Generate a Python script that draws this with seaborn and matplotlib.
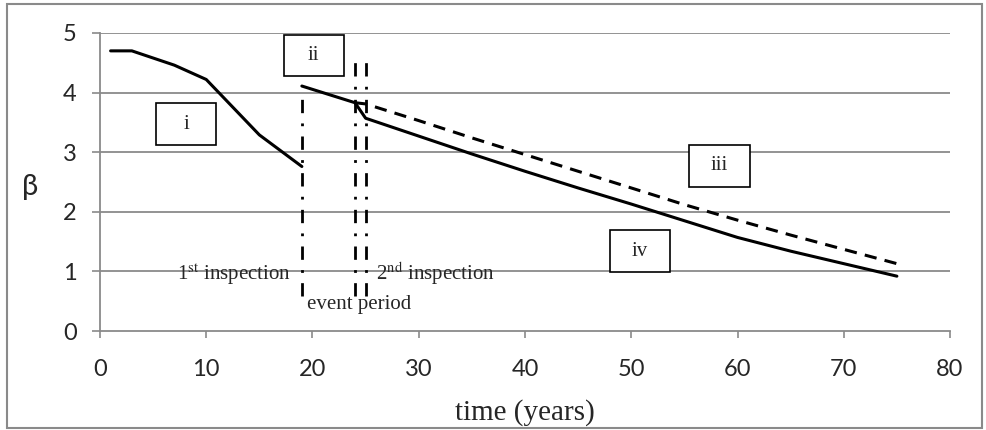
import numpy as np
import pandas as pd
import seaborn as sns
import matplotlib.pyplot as plt
from matplotlib.patches import Rectangle

# curve i: before the 1st inspection
t_before = [1, 3, 7, 10, 15, 19]
beta_before = [4.70, 4.70, 4.46, 4.22, 3.29, 2.76]

# curve ii + iv: after the 1st inspection (solid)
t_after = [19, 24, 25, 30, 35, 40, 45, 50, 55, 60, 65, 70, 75]
beta_after = [4.11, 3.83, 3.57, 3.27, 2.97, 2.68, 2.40, 2.13, 1.85, 1.57, 1.34, 1.13, 0.92]

# curve iii: without the event (dashed)
t_noevent = [24, 25, 30, 35, 40, 45, 50, 55, 60, 65, 70, 75]
beta_noevent = [3.83, 3.81, 3.53, 3.24, 2.96, 2.68, 2.40, 2.12, 1.86, 1.61, 1.37, 1.13]

# vertical markers: 1st inspection, event period start / end
event_t = [19, 24, 25]
event_top = [3.95, 4.52, 4.52]
event_bottom = 0.58

# region labels
region_names = ["i", "ii", "iii", "iv"]
region_t = [8.1, 20.1, 58.3, 50.8]
region_beta = [3.47, 4.62, 2.77, 1.34]

x_ticks = [0, 10, 20, 30, 40, 50, 60, 70, 80]
y_ticks = [0, 1, 2, 3, 4, 5]

sns.set_theme(style="white")
plt.rcParams["font.family"] = ["Lato", "DejaVu Sans"]
plt.rcParams["mathtext.fontset"] = "stix"

grey = "#8a8a8a"
fig = plt.figure(figsize=(9.86, 4.30), dpi=100)
ax = fig.add_axes([0.1014, 0.2302, 0.8621, 0.6931])

fig.patches.append(Rectangle((0.007, 0.005), 0.989, 0.986, transform=fig.transFigure,
                             fill=False, edgecolor=grey, linewidth=1.5))

ax.set_xlim(0, 80)
ax.set_ylim(0, 5)
ax.set_xticks(x_ticks)
ax.set_yticks(y_ticks)
for y in y_ticks[1:]:
    ax.axhline(y, color=grey, lw=1.3, zorder=0)

df1 = pd.DataFrame({"t": t_before, "beta": beta_before})
df2 = pd.DataFrame({"t": t_after, "beta": beta_after})
df3 = pd.DataFrame({"t": t_noevent, "beta": beta_noevent})
sns.lineplot(data=df1, x="t", y="beta", color="black", lw=2.2, ax=ax, sort=False)
sns.lineplot(data=df2, x="t", y="beta", color="black", lw=2.2, ax=ax, sort=False)
sns.lineplot(data=df3, x="t", y="beta", color="black", lw=2.2, ax=ax, sort=False,
             linestyle=(0, (4, 2.7)))

ax.vlines(event_t, event_bottom, event_top, colors="black", lw=2,
          linestyles=[(0, (4.8, 3.7, 1, 3.7))])

for name, t, b in zip(region_names, region_t, region_beta):
    ax.add_patch(Rectangle((t - 2.82, b - 0.35), 5.65, 0.70, fill=True,
                           facecolor="white", edgecolor="black", lw=1.2, zorder=5))
    ax.text(t, b, name, ha="center", va="center", fontsize=15,
            family="Liberation Serif", zorder=6)

serif = "Liberation Serif"
ax.text(18.0, 0.86, "1$^{\\mathrm{st}}$ inspection", ha="right", va="baseline",
        fontsize=15, family=serif)
ax.text(26.0, 0.86, "2$^{\\mathrm{nd}}$ inspection", ha="left", va="baseline",
        fontsize=15, family=serif)
ax.text(24.4, 0.37, "event period", ha="center", va="baseline", fontsize=15, family=serif)

for side in ["top", "right"]:
    ax.spines[side].set_visible(False)
for side in ["left", "bottom"]:
    ax.spines[side].set_color(grey)
    ax.spines[side].set_linewidth(1.3)

ax.tick_params(axis="x", direction="out", length=5, width=1.2, color=grey,
               pad=15, labelsize=17, bottom=True)
ax.tick_params(axis="y", direction="out", length=5.8, width=1.2, color=grey,
               pad=11, labelsize=17, left=True)

ax.set_xlabel("time (years)", fontsize=21, family=serif, va="center")
ax.xaxis.set_label_coords(0.5, -0.275)
ax.set_ylabel("β", fontsize=21, rotation=0, ha="center", va="center")
ax.yaxis.set_label_coords(-0.082, 0.483)

fig.savefig("out.png", dpi=100)
